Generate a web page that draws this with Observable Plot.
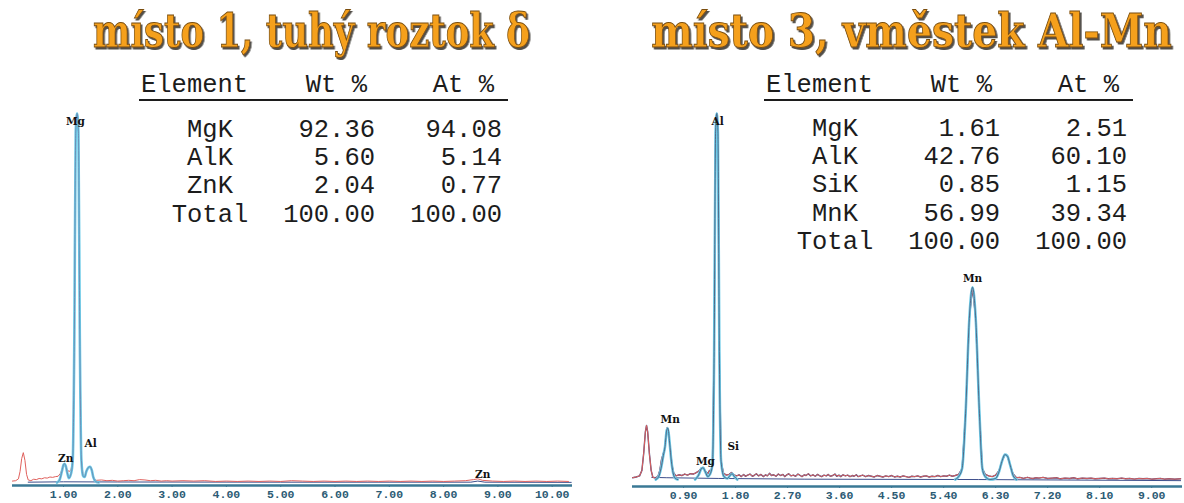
<!DOCTYPE html>
<html><head><meta charset="utf-8">
<script src="https://cdn.jsdelivr.net/npm/d3@7"></script>
<script src="https://cdn.jsdelivr.net/npm/@observablehq/plot@0.6"></script>
<style>
html,body{margin:0;padding:0;background:#fff;}
#wrap{position:relative;width:1184px;height:503px;overflow:hidden;background:#fff;}
#wrap > svg{position:absolute;top:0;}
</style></head><body><div id="wrap"></div>
<script>
// ---------- titles ----------
const titleLeft = "místo 1, tuhý roztok δ";
const titleRight = "místo 3, vměstek Al-Mn";

// ---------- tables ----------
const tableHeader = ["Element", "Wt %", "At %"];
const elemLeft = ["MgK", "AlK", "ZnK", "Total"];
const wtLeft = ["92.36", "5.60", "2.04", "100.00"];
const atLeft = ["94.08", "5.14", "0.77", "100.00"];
const elemRight = ["MgK", "AlK", "SiK", "MnK", "Total"];
const wtRight = ["1.61", "42.76", "0.85", "56.99", "100.00"];
const atRight = ["2.51", "60.10", "1.15", "39.34", "100.00"];

// ---------- axis ticks (keV) ----------
const ticksLeft = [1, 2, 3, 4, 5, 6, 7, 8, 9, 10];
const ticksRight = [0.9, 1.8, 2.7, 3.6, 4.5, 5.4, 6.3, 7.2, 8.1, 9.0];

// ---------- spectrum 1 (energy keV, relative counts) ----------
const rawLeft = [[0.06,0.4],[0.12,0.5],[0.17,1.0],[0.2,3.0],[0.23,6.5],[0.26,8.1],[0.29,6.0],[0.32,2.2],[0.35,0.7],[0.4,0.5],[0.45,0.9],[0.5,0.8],[0.55,1.1],[0.6,1.0],[0.65,1.3],[0.7,1.2],[0.75,1.5],[0.8,1.4],[0.85,1.6],[0.9,1.7],[0.95,2.6],[0.99,4.4],[1.02,5.0],[1.05,4.0],[1.08,3.2],[1.11,3.0],[1.14,3.6],[1.17,6],[1.2,40],[1.225,95],[1.25,100],[1.275,95],[1.3,40],[1.33,6],[1.36,2.2],[1.39,1.8],[1.42,3.0],[1.46,4.1],[1.49,4.3],[1.52,3.4],[1.56,1.2],[1.6,0.6],[1.7,0.7],[1.8,0.5],[1.9,0.6],[2.0,0.4],[2.1,0.5],[2.2,0.6],[2.3,0.5],[2.4,0.8],[2.5,0.7],[2.6,0.5],[2.7,0.6],[2.8,0.4],[2.9,0.5],[3.0,0.4],[3.2,0.5],[3.4,0.4],[3.6,0.5],[3.8,0.3],[4.0,0.4],[4.2,0.3],[4.4,0.4],[4.6,0.3],[4.8,0.4],[5.0,0.3],[5.2,0.5],[5.4,0.4],[5.6,0.3],[5.8,0.4],[6.0,0.3],[6.2,0.4],[6.4,0.3],[6.6,0.4],[6.8,0.3],[7.0,0.4],[7.2,0.3],[7.4,0.4],[7.6,0.3],[7.8,0.4],[8.0,0.3],[8.2,0.4],[8.4,0.5],[8.55,0.8],[8.63,1.0],[8.72,0.6],[8.9,0.4],[9.1,0.3],[9.3,0.4],[9.5,0.3],[9.7,0.4],[9.9,0.3],[10.1,0.4],[10.3,0.3]];
const fitLeft = [
  [[0.88,0],[0.93,0.8],[0.97,3.0],[1.0,4.8],[1.02,5.1],[1.04,4.6],[1.07,2.6],[1.1,1.2],[1.14,2.5],[1.17,6],[1.2,40],[1.225,95],[1.25,100],[1.275,95],[1.3,40],[1.33,6],[1.36,1.8],[1.39,1.5],[1.42,3.0],[1.46,4.1],[1.49,4.3],[1.52,3.4],[1.55,1.4],[1.6,0.2],[1.65,0]]
];
const bgLeft = [[0.35,0.1],[1.0,0.2],[2.0,0.15],[5.0,0.1],[8.5,0.1],[8.63,0.4],[8.76,0.1],[10.35,0.05]];
const labelsLeft = [["Mg",1.22,97.8],["Zn",1.04,6.5],["Al",1.5,10.6],["Zn",8.72,2.2]];

// ---------- spectrum 3 (energy keV, relative counts) ----------
const rawRight = [[0.02,0.5],[0.08,0.7],[0.14,1.0],[0.18,2.5],[0.21,7],[0.24,13],[0.26,14.8],[0.28,13],[0.31,7],[0.34,2.5],[0.37,0.6],[0.42,0.4],[0.46,1.0],[0.49,2.5],[0.52,5.5],[0.55,7.1],[0.57,8],[0.6,12.5],[0.62,14.2],[0.64,13],[0.67,8.5],[0.7,4],[0.73,1.8],[0.77,1.0],[0.82,1.3],[0.87,1.1],[0.92,1.5],[0.97,1.2],[1.02,1.6],[1.07,1.5],[1.12,1.9],[1.17,2.4],[1.21,3.2],[1.24,3.3],[1.28,2.2],[1.32,1.6],[1.35,2.5],[1.37,2.0],[1.4,4],[1.43,35],[1.455,95],[1.475,100],[1.495,95],[1.52,35],[1.55,5],[1.59,1.8],[1.64,1.2],[1.69,1.4],[1.73,1.9],[1.77,1.3],[1.82,1.0],[1.86,1.3],[1.9,0.8],[1.94,1.4],[1.97,0.9],[2.01,1.2],[2.05,1.5],[2.09,0.9],[2.12,1.1],[2.16,1.6],[2.2,1.0],[2.24,1.4],[2.28,0.8],[2.32,1.3],[2.35,1.0],[2.39,1.7],[2.42,1.1],[2.46,1.3],[2.5,0.9],[2.54,1.5],[2.58,1.1],[2.62,1.4],[2.65,0.8],[2.69,1.3],[2.72,1.6],[2.76,1.0],[2.8,1.2],[2.84,0.9],[2.88,1.5],[2.92,1.1],[2.95,0.8],[2.99,1.3],[3.02,1.1],[3.06,1.6],[3.1,1.0],[3.14,1.3],[3.18,0.9],[3.22,1.4],[3.25,1.1],[3.29,0.8],[3.33,1.2],[3.37,1.0],[3.4,1.4],[3.44,0.9],[3.48,1.1],[3.52,1.5],[3.55,0.9],[3.59,1.2],[3.62,0.8],[3.66,1.3],[3.7,1.0],[3.74,1.2],[3.78,0.8],[3.82,1.1],[3.85,0.9],[3.89,1.3],[3.92,0.8],[3.96,1.0],[4.0,1.2],[4.05,0.8],[4.1,1.1],[4.15,0.9],[4.2,0.7],[4.25,1.1],[4.3,0.9],[4.35,0.7],[4.4,1.0],[4.45,0.8],[4.5,1.1],[4.55,0.7],[4.6,0.9],[4.65,0.7],[4.7,1.0],[4.75,0.8],[4.8,0.6],[4.85,0.9],[4.9,0.8],[4.95,1.0],[5.0,0.7],[5.05,0.9],[5.1,1.0],[5.15,0.7],[5.2,0.9],[5.25,0.8],[5.3,1.1],[5.35,0.8],[5.4,1.0],[5.45,0.9],[5.5,1.2],[5.55,0.9],[5.6,1.1],[5.66,1.4],[5.72,3],[5.78,18],[5.845,44],[5.9,52.5],[5.955,44],[6.02,18],[6.07,3],[6.12,1.4],[6.18,1.0],[6.24,0.8],[6.3,1.2],[6.36,2.5],[6.41,5],[6.46,6.8],[6.5,6.5],[6.55,4],[6.6,1.6],[6.66,0.5],[6.72,0.6],[6.78,0.3],[6.85,0.6],[6.9,0.4],[6.95,0.3],[7.0,0.5],[7.05,0.4],[7.12,0.6],[7.2,0.3],[7.28,0.4],[7.35,0.5],[7.42,0.2],[7.5,0.4],[7.58,0.3],[7.65,0.5],[7.72,0.2],[7.8,0.4],[7.88,0.3],[7.95,0.4],[8.02,0.2],[8.1,0.3],[8.18,0.4],[8.25,0.2],[8.32,0.3],[8.4,0.2],[8.48,0.4],[8.55,0.2],[8.62,0.3],[8.7,0.1],[8.78,0.3],[8.85,0.2],[8.92,0.3],[9.0,0.1],[9.08,0.2],[9.15,0.3],[9.22,0.1],[9.3,0.2],[9.4,0.1],[9.5,0.2]];
const fitRight = [
  [[0.42,0],[0.47,0.8],[0.51,3],[0.55,6.5],[0.58,9],[0.61,13.5],[0.63,14],[0.66,10],[0.69,5],[0.72,1.8],[0.76,0.3],[0.8,0]],
  [[1.1,0],[1.16,1.2],[1.21,3.0],[1.24,3.2],[1.28,2.0],[1.32,0.8],[1.36,1.5],[1.4,4],[1.43,35],[1.455,95],[1.475,100],[1.495,95],[1.52,35],[1.55,5],[1.6,0.8],[1.66,0.3],[1.7,1.0],[1.74,1.6],[1.78,0.8],[1.83,0]],
  [[5.6,0],[5.66,0.8],[5.72,3],[5.78,18],[5.845,44],[5.9,52.5],[5.955,44],[6.02,18],[6.07,3],[6.12,0.8],[6.2,0],[6.3,0.3],[6.36,2.2],[6.41,5],[6.46,6.8],[6.5,6.5],[6.55,4],[6.6,1.2],[6.66,0]]
];
const bgRight = [[0.35,0.6],[0.6,0.5],[1.5,0.3],[3.0,0.1],[6.0,0],[9.5,-0.3]];
const labelsRight = [["Al",1.49,97.8],["Mn",0.67,16.4],["Mg",1.28,4.9],["Si",1.76,9.0],["Mn",5.9,54.9]];

// ---------- drawing ----------
const RED = "#e0605c", CYAN = "#6ccbe8", NAVY = "#3e4f8c", AXIS = "#3a7895", TICK = "#2c5b74";
const P = a => a.map(([e, i]) => ({e, i}));

function panel(o) {
  const fitPts = o.fit.flatMap((seg, k) => seg.map(([e, i]) => ({e, i, k})));
  return Plot.plot({
    width: 592, height: 503,
    marginLeft: o.ml, marginRight: o.mr, marginTop: o.yRange[1], marginBottom: 503 - o.yRange[0],
    x: {domain: o.xDomain, range: o.xRange},
    y: {domain: o.yDomain, range: o.yRange, axis: null},
    style: {background: "transparent", overflow: "visible"},
    marks: [
      Plot.ruleY([o.yDomain[0]], {stroke: AXIS, strokeWidth: 2.4}),
      Plot.axisX(o.ticks, {tickFormat: d => d.toFixed(2), tickSize: 2, tickPadding: 2, stroke: AXIS,
        fill: TICK, fontSize: 11.5, fontWeight: "bold", fontFamily: "Liberation Mono", label: null}),
      Plot.line(P(o.bg), {x: "e", y: "i", stroke: NAVY, strokeWidth: 1}),
      o.rawUnder ? Plot.line(P(o.raw), {x: "e", y: "i", stroke: "#4b4d82", strokeWidth: 1.4}) : null,
      Plot.line(P(o.raw), {x: "e", y: "i", stroke: RED, strokeWidth: 1}),
      Plot.line(fitPts, {x: "e", y: "i", z: "k", stroke: CYAN, strokeWidth: 2.6, curve: "monotone-x"}),
      Plot.line(fitPts, {x: "e", y: "i", z: "k", stroke: o.inner, strokeWidth: 0.8, curve: "monotone-x"}),
      Plot.text(o.labels, {x: d => d[1], y: d => d[2], text: d => d[0], fontFamily: "DejaVu Serif",
        fontWeight: "bold", fontSize: 10.5, fill: "#111"})
    ]
  });
}

const wrap = document.getElementById("wrap");
const left = panel({raw: rawLeft, fit: fitLeft, bg: bgLeft, labels: labelsLeft, ticks: ticksLeft,
  xDomain: [0, 10.3], xRange: [8.7, 8.7 + 54.3 * 10.3], yDomain: [-0.8, 100], yRange: [485, 113],
  ml: 12, mr: 20, rawUnder: false, inner: "#6b7fa8"});
left.style.left = "0px";
wrap.appendChild(left);
const right = panel({raw: rawRight, fit: fitRight, bg: bgRight, labels: labelsRight, ticks: ticksRight,
  xDomain: [0, 9.5], xRange: [39, 39 + 57.8 * 9.5], yDomain: [-1.9, 100], yRange: [486, 113],
  ml: 40, mr: 2, rawUnder: true, inner: "#4a5070"});
right.style.left = "592px";
wrap.appendChild(right);

// overlay: titles and tables
const ov = d3.select(wrap).append("svg").attr("width", 1184).attr("height", 503).style("left", "0px");
const defs = ov.append("defs");
const f = defs.append("filter").attr("id", "sh").attr("x", "-5%").attr("y", "-20%").attr("width", "110%").attr("height", "140%");
f.append("feDropShadow").attr("dx", 2).attr("dy", 2).attr("stdDeviation", 0.6).attr("flood-color", "#3d3a35").attr("flood-opacity", 0.9);

function title(txt, cx, w) {
  const g = ov.append("g");
  const t = g.append("text").text(txt).attr("x", 0).attr("y", 0).attr("text-anchor", "middle")
    .attr("font-family", "DejaVu Serif").attr("font-weight", "bold").attr("font-size", 46)
    .attr("fill", "#f5a01c").attr("stroke", "#7a4e10").attr("stroke-width", 0.9)
    .attr("filter", "url(#sh)");
  const natural = t.node().getComputedTextLength();
  g.attr("transform", `translate(${cx},47) scale(${w / natural},1)`);
}
title(titleLeft, 311.5, 437);
title(titleRight, 911.5, 521);

function table(dx, elems, wts, ats, y0) {
  const g = ov.append("g").attr("font-family", "Liberation Mono").attr("font-size", 25.5).attr("fill", "#1c1c1c");
  g.append("text").text(tableHeader[0]).attr("x", 141 + dx).attr("y", 92);
  g.append("text").text(tableHeader[1]).attr("x", 367 + dx).attr("y", 92).attr("text-anchor", "end");
  g.append("text").text(tableHeader[2]).attr("x", 494 + dx).attr("y", 92).attr("text-anchor", "end");
  ov.append("line").attr("x1", 139 + dx).attr("x2", 508 + dx).attr("y1", 100).attr("y2", 100)
    .attr("stroke", "#1c1c1c").attr("stroke-width", 2);
  elems.forEach((e, i) => {
    const y = y0 + i * 28.2;
    g.append("text").text(e).attr("x", 210 + dx).attr("y", y).attr("text-anchor", "middle");
    g.append("text").text(wts[i]).attr("x", 375 + dx).attr("y", y).attr("text-anchor", "end");
    g.append("text").text(ats[i]).attr("x", 502 + dx).attr("y", y).attr("text-anchor", "end");
  });
}
table(0, elemLeft, wtLeft, atLeft, 137);
table(625, elemRight, wtRight, atRight, 136);
</script></body></html>
